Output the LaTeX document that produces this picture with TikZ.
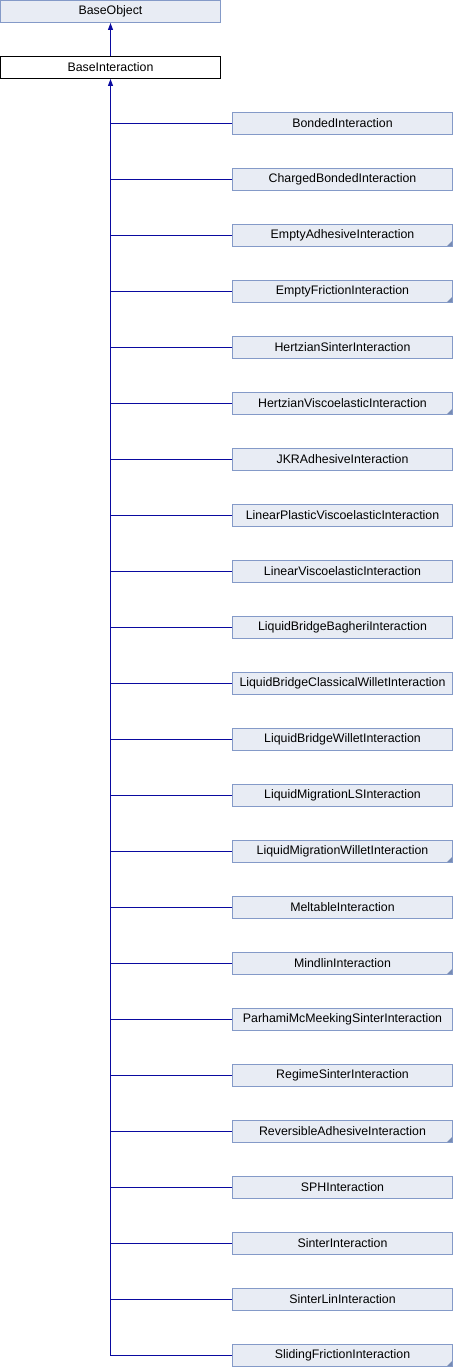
\documentclass[tikz,border=0pt]{standalone}
\usepackage{fontspec}
\setmainfont{Liberation Sans}
\usepackage{tikz}
\usetikzlibrary{arrows.meta}

\definecolor{boxfill}{RGB}{232,236,244}
\definecolor{boxline}{RGB}{132,154,200}
\definecolor{linkblue}{RGB}{10,10,160}

\begin{document}
\begin{tikzpicture}[
    x=1bp, y=-1bp,
    >={Triangle[length=7bp,width=5bp]},
    cls/.style={draw=boxline, fill=boxfill, line width=1bp, minimum width=220bp,
      minimum height=22bp, inner sep=0pt, font=\fontsize{12.4}{14}\selectfont},
    current/.style={cls, draw=black, fill=white},
    more/.style={path picture={\fill[boxline!90!black]
      ([xshift=-0.5bp,yshift=0.5bp]path picture bounding box.south east) -- ++(-5bp,0bp) -- ++(5bp,5bp) -- cycle;}},
    link/.style={draw=linkblue, line width=1bp}
  ]
  \useasboundingbox (0,0) rectangle (454,1368);

  % Parents
  \node[cls] (obj) at (110.5,11.5) {BaseObject};
  \node[current] (base) at (110.5,67.5) {BaseInteraction};
  \draw[link, ->] (base.north) -- (obj.south);

  % Children
  \node[cls] (bonded)    at (342.5,123.5)  {BondedInteraction};
  \node[cls] (charged)   at (342.5,179.5)  {ChargedBondedInteraction};
  \node[cls, more] (emptyadh)  at (342.5,235.5)  {EmptyAdhesiveInteraction};
  \node[cls, more] (emptyfric) at (342.5,291.5)  {EmptyFrictionInteraction};
  \node[cls] (hsinter)   at (342.5,347.5)  {HertzianSinterInteraction};
  \node[cls, more] (hvisco)    at (342.5,403.5)  {HertzianViscoelasticInteraction};
  \node[cls] (jkr)       at (342.5,459.5)  {JKRAdhesiveInteraction};
  \node[cls] (linplast)  at (342.5,515.5)  {LinearPlasticViscoelasticInteraction};
  \node[cls] (linvisco)  at (342.5,571.5)  {LinearViscoelasticInteraction};
  \node[cls] (lbbagheri) at (342.5,627.5)  {LiquidBridgeBagheriInteraction};
  \node[cls] (lbclass)   at (342.5,683.5)  {LiquidBridgeClassicalWilletInteraction};
  \node[cls] (lbwillet)  at (342.5,739.5)  {LiquidBridgeWilletInteraction};
  \node[cls] (lmls)      at (342.5,795.5)  {LiquidMigrationLSInteraction};
  \node[cls, more] (lmwillet)  at (342.5,851.5)  {LiquidMigrationWilletInteraction};
  \node[cls] (meltable)  at (342.5,907.5)  {MeltableInteraction};
  \node[cls, more] (mindlin)   at (342.5,963.5)  {MindlinInteraction};
  \node[cls] (parhami)   at (342.5,1019.5) {ParhamiMcMeekingSinterInteraction};
  \node[cls] (regime)    at (342.5,1075.5) {RegimeSinterInteraction};
  \node[cls, more] (revadh)    at (342.5,1131.5) {ReversibleAdhesiveInteraction};
  \node[cls] (sph)       at (342.5,1187.5) {SPHInteraction};
  \node[cls] (sinter)    at (342.5,1243.5) {SinterInteraction};
  \node[cls] (sinterlin) at (342.5,1299.5) {SinterLinInteraction};
  \node[cls, more] (sliding)   at (342.5,1355.5) {SlidingFrictionInteraction};

  % Inheritance
  \draw[link, ->] (sliding.west) -| (base.south);
  \draw[link] (bonded.west)    -- (bonded.west -| base.south);
  \draw[link] (charged.west)   -- (charged.west -| base.south);
  \draw[link] (emptyadh.west)  -- (emptyadh.west -| base.south);
  \draw[link] (emptyfric.west) -- (emptyfric.west -| base.south);
  \draw[link] (hsinter.west)   -- (hsinter.west -| base.south);
  \draw[link] (hvisco.west)    -- (hvisco.west -| base.south);
  \draw[link] (jkr.west)       -- (jkr.west -| base.south);
  \draw[link] (linplast.west)  -- (linplast.west -| base.south);
  \draw[link] (linvisco.west)  -- (linvisco.west -| base.south);
  \draw[link] (lbbagheri.west) -- (lbbagheri.west -| base.south);
  \draw[link] (lbclass.west)   -- (lbclass.west -| base.south);
  \draw[link] (lbwillet.west)  -- (lbwillet.west -| base.south);
  \draw[link] (lmls.west)      -- (lmls.west -| base.south);
  \draw[link] (lmwillet.west)  -- (lmwillet.west -| base.south);
  \draw[link] (meltable.west)  -- (meltable.west -| base.south);
  \draw[link] (mindlin.west)   -- (mindlin.west -| base.south);
  \draw[link] (parhami.west)   -- (parhami.west -| base.south);
  \draw[link] (regime.west)    -- (regime.west -| base.south);
  \draw[link] (revadh.west)    -- (revadh.west -| base.south);
  \draw[link] (sph.west)       -- (sph.west -| base.south);
  \draw[link] (sinter.west)    -- (sinter.west -| base.south);
  \draw[link] (sinterlin.west) -- (sinterlin.west -| base.south);
\end{tikzpicture}
\end{document}
